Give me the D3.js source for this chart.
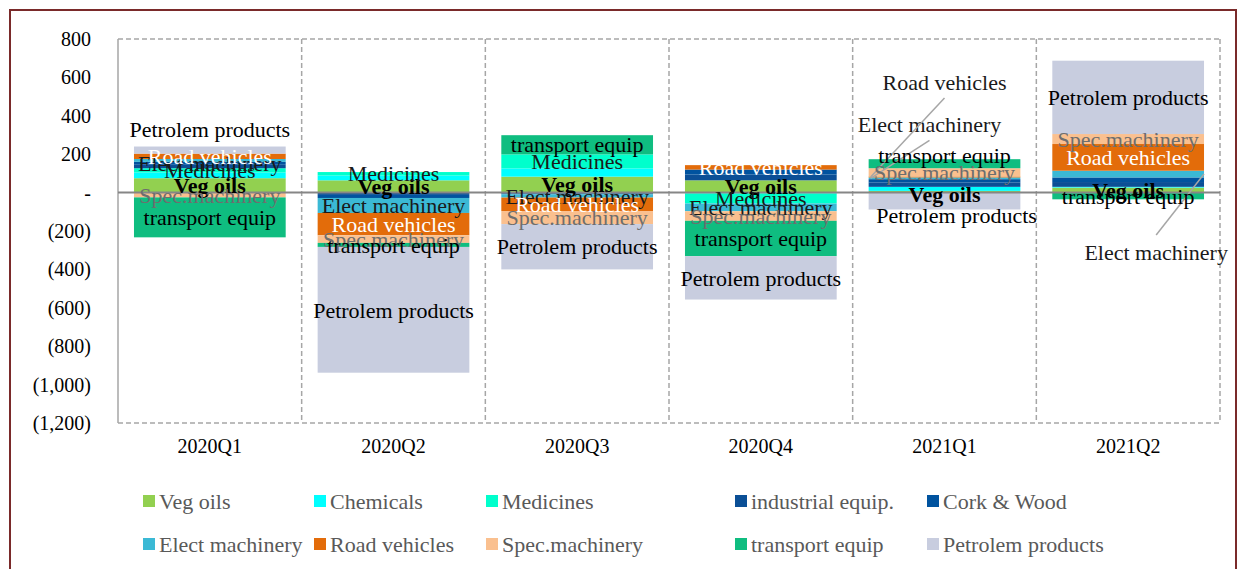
<!DOCTYPE html>
<html>
<head>
<meta charset="utf-8">
<script src="https://cdn.jsdelivr.net/npm/d3@7"></script>
<style>
  body { margin: 0; background: #fff; }
  svg text { font-family: "Liberation Serif", "DejaVu Serif", serif; }
</style>
</head>
<body>
<div class="chart-wrapper"></div>
<script>
// categories and series values
const quarters = ['2020Q1', '2020Q2', '2020Q3', '2020Q4', '2021Q1', '2021Q2'];
const seriesNames = ['Veg oils', 'Chemicals', 'Medicines', 'industrial equip.', 'Cork & Wood',
    'Elect machinery', 'Road vehicles', 'Spec.machinery', 'transport equip', 'Petrolem products'];

const vegOils          = [75, 64, 83, 64, 9, 26];
const chemicals        = [30, 25, 43, -5, 21, 4];
const medicines        = [22, 18, 73, -52, 0, 0];
const industrialEquip  = [18, -12, -5, 30, 22, 25];
const corkWood         = [15, -16, -4, 26, 18, 24];
const electMachinery   = [15, -78, -17, -40, 9, 35];
const roadVehicles     = [28, -116, -70, 23, 5, 139];
const specMachinery    = [-25, -40, -68, -50, 43, 52];
const transportEquip   = [-208, -21, 100, -184, 47, -35];
const petrolemProducts = [37, -655, -236, -226, -88, 382];

const yTicks = [800, 600, 400, 200, 0, -200, -400, -600, -800, -1000, -1200];

const seriesValues = [vegOils, chemicals, medicines, industrialEquip, corkWood,
    electMachinery, roadVehicles, specMachinery, transportEquip, petrolemProducts];

// styles
const colors = ['#92d050', '#00ffff', '#00ffcc', '#0b4f96', '#00539f',
    '#3bb9d5', '#e36c0a', '#fac08f', '#0fbd80', '#c8cddf'];
const labelled = {
    'Veg oils': {fill: '#000', weight: 'bold'},
    'Medicines': {fill: '#1a1a1a'},
    'Elect machinery': {fill: '#1a1a1a'},
    'Road vehicles': {fill: '#ffffff'},
    'Spec.machinery': {fill: '#6e6e6e'},
    'transport equip': {fill: '#000'},
    'Petrolem products': {fill: '#000'},
};
// manual label moves (pixels), like the hand-moved labels of the original
const labelMoves = {
    '2020Q1|Petrolem products': {dx: 0, dy: -21},
    '2020Q1|Elect machinery': {dx: 0, dy: 3},
    '2021Q1|Road vehicles': {dx: 0, dy: -95, leader: 'left', black: true},
    '2021Q1|Elect machinery': {dx: -15, dy: -54, leader: 'left', black: true},
    '2021Q1|transport equip': {dx: 0, dy: -8},
    '2021Q1|Veg oils': {dx: 0, dy: 3},
    '2021Q1|Petrolem products': {dx: 12, dy: 14},
    '2021Q2|Elect machinery': {dx: 28, dy: 78, leader: 'right', black: true},
};

const dims = {width: 1239, height: 569};
const plot = {left: 118, right: 1220, top: 39, bottom: 423};

const table = quarters.map((q, i) => {
    const row = {quarter: q};
    seriesNames.forEach((s, j) => { row[s] = seriesValues[j][i]; });
    return row;
});

const svg = d3.select('.chart-wrapper')
    .append('svg')
    .attr('width', dims.width)
    .attr('height', dims.height);

// outer frame
svg.append('rect')
    .attr('x', 10).attr('y', 10)
    .attr('width', 1226).attr('height', 600)
    .attr('fill', 'none')
    .attr('stroke', '#7a2a2a')
    .attr('stroke-width', 2);

const xScale = d3.scaleBand()
    .domain(quarters)
    .range([plot.left, plot.right]);

const yScale = d3.scaleLinear()
    .domain([-1200, 800])
    .range([plot.bottom, plot.top]);

const barOffset = xScale.bandwidth() * 0.087;
const barWidth = xScale.bandwidth() * 0.826;

// grid frame: dashed separators
const grid = svg.append('g').attr('stroke', '#a6a6a6').attr('stroke-width', 1.5)
    .attr('stroke-dasharray', '5,3');
quarters.forEach(q => {
    grid.append('line')
        .attr('x1', xScale(q) + xScale.bandwidth()).attr('x2', xScale(q) + xScale.bandwidth())
        .attr('y1', plot.top).attr('y2', plot.bottom);
});
grid.append('line').attr('x1', plot.left).attr('x2', plot.right)
    .attr('y1', yScale(800)).attr('y2', yScale(800));
grid.append('line').attr('x1', plot.left).attr('x2', plot.right)
    .attr('y1', yScale(-1200)).attr('y2', yScale(-1200));

// stacked bars
const stack = d3.stack()
    .keys(seriesNames)
    .offset(d3.stackOffsetDiverging);
const stacked = stack(table);

const bars = svg.append('g');
stacked.forEach((layer, j) => {
    bars.selectAll(null)
        .data(layer)
        .join('rect')
        .attr('x', d => xScale(d.data.quarter) + barOffset)
        .attr('width', barWidth)
        .attr('y', d => yScale(Math.max(d[0], d[1])))
        .attr('height', d => Math.abs(yScale(d[0]) - yScale(d[1])))
        .attr('fill', colors[j]);
});

// left axis line and zero line
svg.append('line')
    .attr('x1', plot.left).attr('x2', plot.left)
    .attr('y1', plot.top).attr('y2', plot.bottom)
    .attr('stroke', '#a6a6a6').attr('stroke-width', 1.5);
svg.append('line')
    .attr('x1', plot.left).attr('x2', plot.right)
    .attr('y1', yScale(0)).attr('y2', yScale(0))
    .attr('stroke', '#868686').attr('stroke-width', 2);

// data labels
const labels = svg.append('g').attr('font-size', 22).attr('text-anchor', 'middle');
stacked.forEach(layer => {
    const style = labelled[layer.key];
    if (!style) return;
    layer.forEach(d => {
        if (d[1] - d[0] === 0) return;
        const q = d.data.quarter;
        const move = labelMoves[q + '|' + layer.key] || {dx: 0, dy: 0};
        const cx = xScale(q) + xScale.bandwidth() / 2;
        const cy = (yScale(d[0]) + yScale(d[1])) / 2;
        const lx = cx + move.dx;
        const ly = cy + move.dy;
        if (move.leader) {
            const ex = move.leader === 'left'
                ? xScale(q) + barOffset + 2
                : xScale(q) + barOffset + barWidth;
            const sy = move.dy < 0 ? ly + 16 : ly - 17;
            labels.append('line')
                .attr('x1', lx).attr('y1', sy)
                .attr('x2', ex).attr('y2', cy)
                .attr('stroke', '#a6a6a6').attr('stroke-width', 1.5);
        }
        labels.append('text')
            .attr('x', lx)
            .attr('y', ly)
            .attr('dy', '0.35em')
            .attr('fill', move.black ? '#1a1a1a' : style.fill)
            .attr('font-weight', style.weight || 'normal')
            .text(layer.key);
    });
});

// y axis labels
const fmtTick = v => {
    if (v === 0) return '-';
    const s = d3.format(',')(Math.abs(v));
    return v < 0 ? '(' + s + ')' : s;
};
const yAxis = d3.axisLeft(yScale)
    .tickValues(yTicks)
    .tickFormat(fmtTick)
    .tickSize(0)
    .tickPadding(27);
svg.append('g')
    .attr('transform', `translate(${plot.left}, 0)`)
    .call(yAxis)
    .call(g => g.select('.domain').remove())
    .call(g => g.selectAll('text')
        .attr('font-family', '"Liberation Serif", serif')
        .attr('font-size', 20)
        .attr('fill', '#000'));

// x axis labels
const xAxis = d3.axisBottom(xScale).tickSize(0).tickPadding(16);
svg.append('g')
    .attr('transform', `translate(0, ${plot.bottom})`)
    .call(xAxis)
    .call(g => g.select('.domain').remove())
    .call(g => g.selectAll('text')
        .attr('font-family', '"Liberation Serif", serif')
        .attr('font-size', 20)
        .attr('fill', '#000'));

// legend
const legendCols = [143, 314, 486, 735, 927];
const legendRows = [501, 544];
const legend = svg.append('g');
seriesNames.forEach((name, i) => {
    const x = legendCols[i % 5];
    const y = legendRows[Math.floor(i / 5)];
    legend.append('rect')
        .attr('x', x).attr('y', y - 6)
        .attr('width', 12).attr('height', 12)
        .attr('fill', colors[i]);
    legend.append('text')
        .attr('x', x + 16).attr('y', y)
        .attr('dy', '0.35em')
        .attr('font-size', 22)
        .attr('fill', '#595959')
        .text(name);
});
</script>
</body>
</html>
